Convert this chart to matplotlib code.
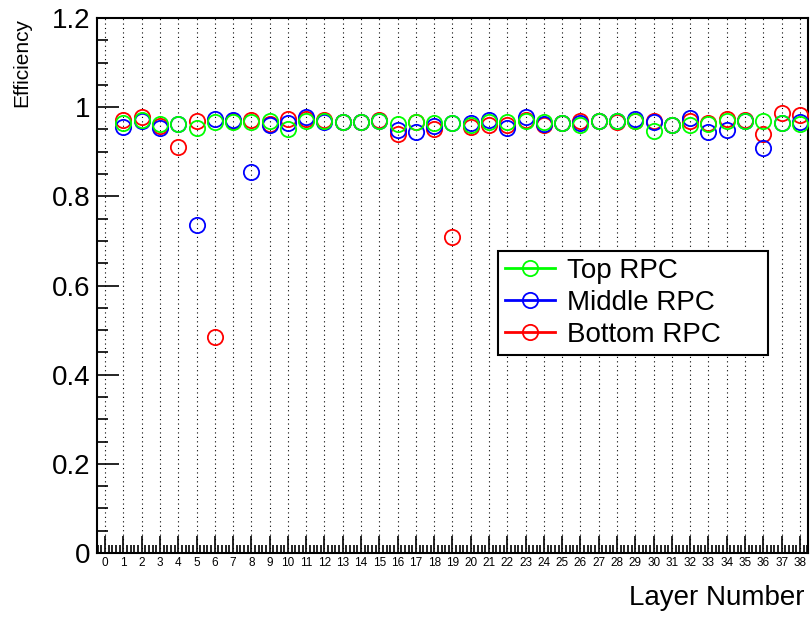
import matplotlib.pyplot as plt
from matplotlib.ticker import MultipleLocator, FixedLocator
from matplotlib.lines import Line2D

plt.rcParams['font.family'] = ['Liberation Sans', 'DejaVu Sans']

# Efficiency per layer (layers 1..38)
layers = list(range(1, 39))
top_rpc = [0.964, 0.971, 0.962, 0.962, 0.953, 0.967, 0.966, 0.967, 0.970, 0.952,
           0.968, 0.968, 0.966, 0.966, 0.970, 0.962, 0.966, 0.965, 0.964, 0.960,
           0.966, 0.966, 0.968, 0.966, 0.964, 0.960, 0.970, 0.968, 0.970, 0.947,
           0.959, 0.959, 0.962, 0.968, 0.970, 0.970, 0.964, 0.962]
middle_rpc = [0.956, 0.968, 0.953, 0.962, 0.736, 0.974, 0.972, 0.854, 0.960, 0.964,
              0.977, 0.966, 0.966, 0.966, 0.968, 0.949, 0.944, 0.958, 0.964, 0.964,
              0.972, 0.953, 0.977, 0.963, 0.964, 0.964, 0.970, 0.970, 0.974, 0.966,
              0.959, 0.975, 0.944, 0.949, 0.970, 0.908, 0.964, 0.966]
bottom_rpc = [0.971, 0.977, 0.958, 0.911, 0.969, 0.485, 0.968, 0.972, 0.962, 0.973,
              0.973, 0.972, 0.966, 0.966, 0.972, 0.940, 0.966, 0.950, 0.709, 0.956,
              0.960, 0.960, 0.972, 0.960, 0.964, 0.970, 0.968, 0.966, 0.970, 0.970,
              0.959, 0.970, 0.964, 0.974, 0.972, 0.939, 0.986, 0.982]

y_ticks = [0, 0.2, 0.4, 0.6, 0.8, 1.0, 1.2]
y_labels = ['0', '0.2', '0.4', '0.6', '0.8', '1', '1.2']

fig = plt.figure(figsize=(8.12, 6.17), dpi=100)
ax = fig.add_axes([0.1195, 0.1037, 0.8755, 0.8671])

# dotted vertical grid at each layer
for n in range(0, 39):
    ax.axvline(n, color='black', lw=0.8, ls=(0, (1, 3)), zorder=1)

mk = dict(ls='none', marker='o', ms=11, mfc='none', mew=1.3, zorder=3)
ax.plot(layers, bottom_rpc, mec='#ff0000', **mk)
ax.plot(layers, middle_rpc, mec='#0000ff', **mk)
ax.plot(layers, top_rpc, mec='#00ff00', **mk)

ax.set_xlim(-0.44, 38.44)
ax.set_ylim(0, 1.2)

ax.xaxis.set_major_locator(FixedLocator(range(0, 39)))
ax.xaxis.set_minor_locator(MultipleLocator(0.2))
ax.set_yticks(y_ticks)
ax.set_yticklabels(y_labels)
ax.yaxis.set_minor_locator(MultipleLocator(0.05))

ax.tick_params(axis='x', which='major', direction='in', length=12, width=1.2,
               labelsize=8.5, pad=3, top=False)
ax.tick_params(axis='x', which='minor', direction='in', length=6, width=1.2, top=False)
ax.tick_params(axis='y', which='major', direction='in', length=16, width=1.2,
               labelsize=20, pad=5, right=False)
ax.tick_params(axis='y', which='minor', direction='in', length=8, width=1.2, right=False)

for s in ax.spines.values():
    s.set_linewidth(1.5)

fig.text(22 / 812, 1 - 18 / 617, 'Efficiency', rotation=90, ha='center', va='top', fontsize=15)
fig.text(0.991, 1 - 598 / 617, 'Layer Number', ha='right', va='center', fontsize=20)

handles = [Line2D([], [], color=c, lw=2, marker='o', ms=11, mfc='none', mec=c, mew=1.3)
           for c in ('#00ff00', '#0000ff', '#ff0000')]
leg = ax.legend(handles, ['Top RPC', 'Middle RPC', 'Bottom RPC'], loc='upper left',
                bbox_to_anchor=(0.564, 0.37, 0.38, 0.195), mode='expand', fontsize=20,
                frameon=True, fancybox=False, edgecolor='black', framealpha=1,
                handlelength=1.8, handletextpad=0.45, labelspacing=0.22, borderpad=0.25,
                borderaxespad=0)
leg.get_frame().set_linewidth(1.5)

fig.savefig('out.png', dpi=100)
